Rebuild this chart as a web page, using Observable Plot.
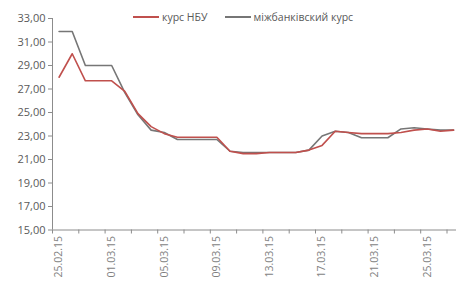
<!DOCTYPE html>
<html>
<head>
<meta charset="utf-8">
<script src="https://cdn.jsdelivr.net/npm/d3@7"></script>
<script src="https://cdn.jsdelivr.net/npm/@observablehq/plot@0.6"></script>
<style>
  html, body { margin: 0; padding: 0; background: #fff; }
  #wrap { position: relative; width: 456px; height: 281px; overflow: hidden; font-family: "Open Sans", sans-serif; }
  #legend { position: absolute; top: 10px; left: 133px; display: flex; align-items: center; font-size: 10.5px; color: #595959; white-space: nowrap; }
  .sw { display: inline-block; width: 26px; height: 2px; margin-right: 3px; }
  .item { display: flex; align-items: center; margin-right: 17px; }
</style>
</head>
<body>
<div id="wrap">
  <div id="chart"></div>
  <div id="legend">
    <div class="item"><span class="sw" style="background:#c0504d"></span><span>курс НБУ</span></div>
    <div class="item" style="margin-right:0"><span class="sw" style="background:#767676"></span><span>міжбанківский курс</span></div>
  </div>
</div>
<script>
const dates = ["25.02.15","26.02.15","27.02.15","28.02.15","01.03.15","02.03.15","03.03.15","04.03.15",
  "05.03.15","06.03.15","07.03.15","08.03.15","09.03.15","10.03.15","11.03.15","12.03.15",
  "13.03.15","14.03.15","15.03.15","16.03.15","17.03.15","18.03.15","19.03.15","20.03.15",
  "21.03.15","22.03.15","23.03.15","24.03.15","25.03.15","26.03.15","27.03.15"];
const nbu = [28.0, 30.0, 27.7, 27.7, 27.7, 26.8, 24.9, 23.8,
  23.2, 22.9, 22.9, 22.9, 22.9, 21.7, 21.5, 21.5,
  21.6, 21.6, 21.6, 21.8, 22.2, 23.4, 23.3, 23.2,
  23.2, 23.2, 23.3, 23.5, 23.6, 23.4, 23.5];
const interbank = [31.9, 31.9, 29.0, 29.0, 29.0, 26.7, 24.8, 23.5,
  23.3, 22.7, 22.7, 22.7, 22.7, 21.7, 21.6, 21.6,
  21.6, 21.6, 21.6, 21.8, 23.0, 23.4, 23.3, 22.85,
  22.85, 22.85, 23.6, 23.7, 23.6, 23.5, 23.5];
const yTicks = [15, 17, 19, 21, 23, 25, 27, 29, 31, 33];

const rows = (vals, s) => vals.map((v, i) => ({i, v, s}));
const data = [...rows(interbank, "міжбанківский курс"), ...rows(nbu, "курс НБУ")];
const n = dates.length;
const boundaries = d3.range(-0.5, n - 1, 2);
const labelIdx = d3.range(0, n, 4);
const fmt = d => d.toFixed(2).replace(".", ",");

const chart = Plot.plot({
  width: 456,
  height: 281,
  marginLeft: 52,
  marginTop: 18,
  marginBottom: 51.5,
  marginRight: 0,
  style: {fontFamily: "Open Sans, sans-serif", fontSize: "11px", color: "#595959", background: "#fff"},
  x: {type: "linear", domain: [-0.5, n - 0.5], range: [52, 52 + n * 13.15]},
  y: {domain: [15, 33]},
  marks: [
    Plot.ruleY([15], {stroke: "#8c8c8c"}),
    Plot.ruleX([-0.5], {stroke: "#8c8c8c", y1: 15, y2: 33}),
    Plot.axisY({ticks: yTicks, tickFormat: fmt, tickSize: 4, tickPadding: 3, stroke: "#8c8c8c", label: null, fill: "#595959", fontSize: 11}),
    Plot.axisX({ticks: boundaries, tickFormat: () => "", tickSize: 4, stroke: "#8c8c8c", label: null}),
    Plot.axisX({ticks: labelIdx, tickFormat: i => dates[i], tickSize: 0, tickPadding: 6, tickRotate: -90, label: null, fill: "#7f7f7f", fontSize: 10.5}),
    Plot.line(data, {x: "i", y: "v", z: "s", stroke: d => d.s === "курс НБУ" ? "#c0504d" : "#767676", strokeWidth: 1.6, curve: "linear"})
  ]
});
document.getElementById("chart").appendChild(chart);
</script>
</body>
</html>
